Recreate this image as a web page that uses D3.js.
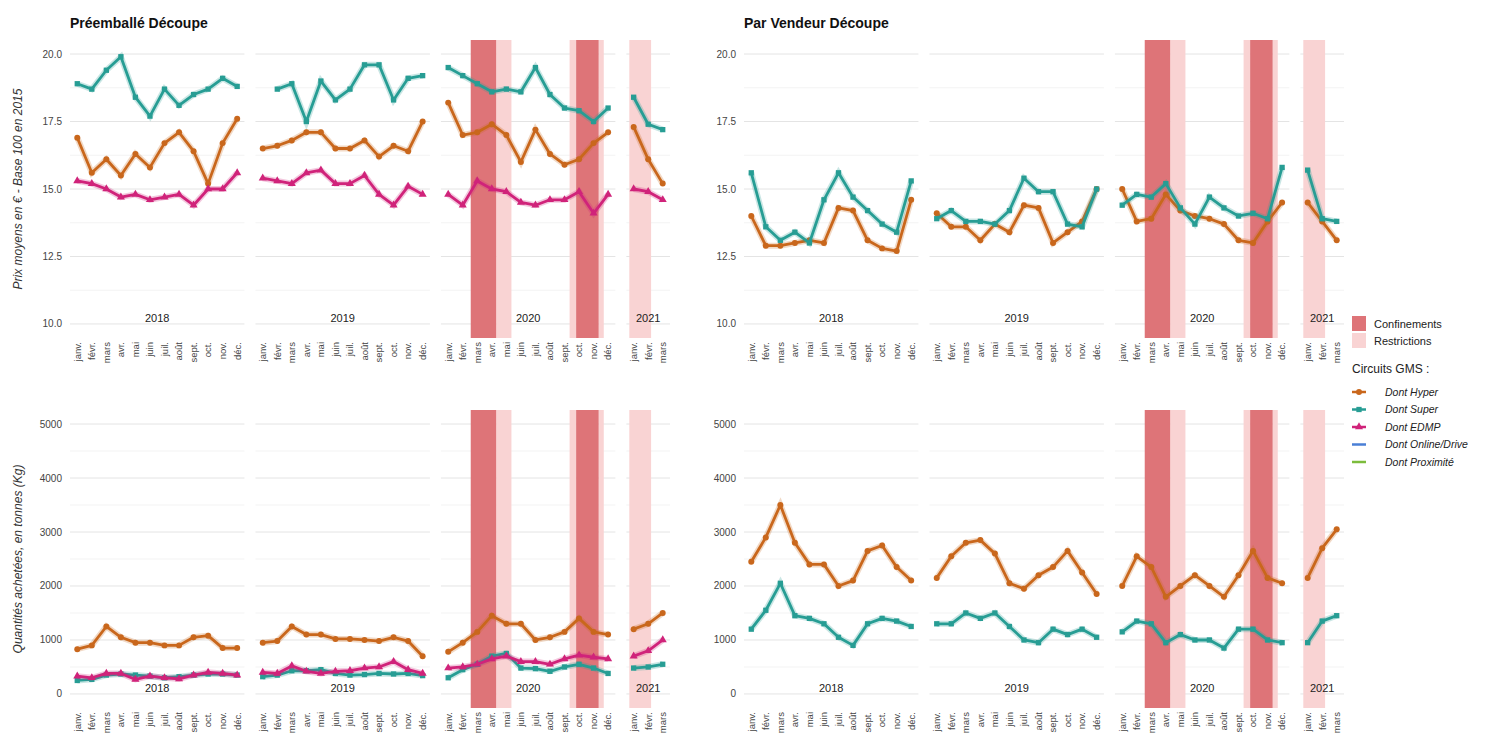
<!DOCTYPE html>
<html><head><meta charset="utf-8">
<script src="https://cdn.jsdelivr.net/npm/d3@7"></script>
<style>body{margin:0;background:#fff}</style>
</head><body>
<script>
const months = ["janv.","févr.","mars","avr.","mai","juin","juil.","août","sept.","oct.","nov.","déc."];
const years = ["2018","2019","2020","2021"];
const seriesNames = ["Dont Hyper","Dont Super","Dont EDMP","Dont Online/Drive","Dont Proximité"];
const seriesColors = ["#c9671c","#279d94","#d0237a","#4a7fd6","#7cbc3c"];

// prix, Préemballé Découpe (2018..2021 concatenated, 39 months)
const prixPreHyper = [16.9,15.6,16.1,15.5,16.3,15.8,16.7,17.1,16.4,15.2,16.7,17.6, 16.5,16.6,16.8,17.1,17.1,16.5,16.5,16.8,16.2,16.6,16.4,17.5, 18.2,17.0,17.1,17.4,17.0,16.0,17.2,16.3,15.9,16.1,16.7,17.1, 17.3,16.1,15.2];
const prixPreSuper = [18.9,18.7,19.4,19.9,18.4,17.7,18.7,18.1,18.5,18.7,19.1,18.8, null,18.7,18.9,17.5,19.0,18.3,18.7,19.6,19.6,18.3,19.1,19.2, 19.5,19.2,18.9,18.6,18.7,18.6,19.5,18.5,18.0,17.9,17.5,18.0, 18.4,17.4,17.2];
const prixPreEdmp = [15.3,15.2,15.0,14.7,14.8,14.6,14.7,14.8,14.4,15.0,15.0,15.6, 15.4,15.3,15.2,15.6,15.7,15.2,15.2,15.5,14.8,14.4,15.1,14.8, 14.8,14.4,15.3,15.0,14.9,14.5,14.4,14.6,14.6,14.9,14.1,14.8, 15.0,14.9,14.6];
// prix, Par Vendeur Découpe
const prixVenHyper = [14.0,12.9,12.9,13.0,13.1,13.0,14.3,14.2,13.1,12.8,12.7,14.6, 14.1,13.6,13.6,13.1,13.7,13.4,14.4,14.3,13.0,13.4,13.8,15.0, 15.0,13.8,13.9,14.8,14.2,14.0,13.9,13.7,13.1,13.0,13.8,14.5, 14.5,13.8,13.1];
const prixVenSuper = [15.6,13.6,13.1,13.4,13.0,14.6,15.6,14.7,14.2,13.7,13.4,15.3, 13.9,14.2,13.8,13.8,13.7,14.2,15.4,14.9,14.9,13.7,13.6,15.0, 14.4,14.8,14.7,15.2,14.3,13.7,14.7,14.3,14.0,14.1,13.9,15.8, 15.7,13.9,13.8];
// quantités, Préemballé Découpe
const qtePreHyper = [830,900,1250,1050,950,950,900,900,1050,1080,850,850, 950,980,1250,1100,1100,1020,1020,1000,980,1050,980,700, 780,950,1150,1450,1300,1300,1000,1050,1150,1400,1150,1100, 1200,1300,1500];
const qtePreSuper = [250,270,350,370,350,330,300,320,350,370,370,350, 320,350,430,430,450,380,350,360,380,370,380,340, 300,450,550,700,750,480,470,420,500,550,480,380, 480,500,550];
const qtePreEdmp = [330,300,380,380,270,330,300,280,350,400,380,350, 400,380,520,420,380,420,430,480,500,600,450,380, 480,500,550,650,700,600,600,550,650,720,680,650, 700,800,1000];
// quantités, Par Vendeur Découpe
const qteVenHyper = [2450,2900,3500,2800,2400,2400,2000,2100,2650,2750,2350,2100, 2150,2550,2800,2850,2600,2050,1950,2200,2350,2650,2250,1850, 2000,2550,2350,1800,2000,2200,2000,1800,2200,2650,2150,2050, 2150,2700,3050];
const qteVenSuper = [1200,1550,2050,1450,1400,1300,1050,900,1300,1400,1350,1250, 1300,1300,1500,1400,1500,1250,1000,950,1200,1100,1200,1050, 1150,1350,1300,950,1100,1000,1000,850,1200,1200,1000,950, 950,1350,1450];

// périodes (année, début, fin en index de mois)
const confinements = [["2020",1.55,3.3],["2020",8.8,10.35]];
const restrictions = [["2020",3.3,4.35],["2020",8.35,8.8],["2020",10.35,10.7],["2021",-0.3,1.2]];

const W = 1488, H = 744;
const svg = d3.select("body").append("svg").attr("width", W).attr("height", H)
  .attr("font-family", "Liberation Sans, Arial, sans-serif");

const yearMonths = {"2018":12,"2019":12,"2020":12,"2021":3};
const gap = 11;

function panel({left, top, bottom, domain, ticks, fmt, series, title, ytitle}) {
  const width = 600;
  const step = (width - gap * 3) / 39;
  const y = d3.scaleLinear().domain(domain).range([bottom, top]);
  const g = svg.append("g");
  let x0 = left;
  const facets = years.map(yr => {
    const n = yearMonths[yr];
    const x = d3.scaleLinear().domain([-0.5, n - 0.5]).range([x0, x0 + n * step]);
    const f = {yr, n, x, x0, x1: x0 + n * step};
    x0 += n * step + gap;
    return f;
  });
  if (title) svg.append("text").attr("x", left).attr("y", 28).attr("font-size", 14)
    .attr("font-weight", "bold").attr("fill", "#111").text(title);
  if (ytitle) svg.append("text").attr("transform", `translate(${left - 48},${(top + bottom) / 2}) rotate(-90)`)
    .attr("text-anchor", "middle").attr("font-size", 12).attr("font-style", "italic").attr("fill", "#333").text(ytitle);
  g.selectAll(".yt").data(ticks).join("text").attr("x", left - 8).attr("y", d => y(d)).attr("dy", "0.35em")
    .attr("text-anchor", "end").attr("font-size", 10).attr("fill", "#444").text(fmt);
  const minor = d3.pairs(ticks).map(([a, b]) => (a + b) / 2);
  let offset = 0;
  facets.forEach(f => {
    const fg = g.append("g");
    fg.selectAll(".mi").data(minor).join("line").attr("x1", f.x0).attr("x2", f.x1)
      .attr("y1", d => y(d)).attr("y2", d => y(d)).attr("stroke", "#f3f3f3");
    fg.selectAll(".ma").data(ticks).join("line").attr("x1", f.x0).attr("x2", f.x1)
      .attr("y1", d => y(d)).attr("y2", d => y(d)).attr("stroke", "#e4e4e4");
    restrictions.filter(r => r[0] === f.yr).forEach(r => fg.append("rect")
      .attr("x", f.x(r[1])).attr("width", f.x(r[2]) - f.x(r[1])).attr("y", top).attr("height", bottom - top)
      .attr("fill", "#f9d3d3"));
    confinements.filter(r => r[0] === f.yr).forEach(r => fg.append("rect")
      .attr("x", f.x(r[1])).attr("width", f.x(r[2]) - f.x(r[1])).attr("y", top).attr("height", bottom - top)
      .attr("fill", "#de7478"));
    fg.append("text").attr("x", (f.x0 + f.x1) / 2).attr("y", y(ticks[0]) - 2).attr("text-anchor", "middle")
      .attr("font-size", 11).attr("fill", "#222").text(f.yr);
    fg.selectAll(".mo").data(months.slice(0, f.n)).join("text")
      .attr("transform", (d, i) => `translate(${f.x(i)},${bottom + 4}) rotate(-90)`)
      .attr("dy", "0.35em").attr("text-anchor", "end").attr("font-size", 9.5).attr("fill", "#444").text(d => d);
    series.forEach(s => {
      const vals = s.values.slice(offset, offset + f.n).map((v, i) => ({i, v})).filter(d => d.v != null);
      const line = d3.line().x(d => f.x(d.i)).y(d => y(d.v));
      fg.append("path").datum(vals).attr("d", line).attr("fill", "none")
        .attr("stroke", s.color).attr("stroke-opacity", 0.25).attr("stroke-width", 6);
      fg.append("path").datum(vals).attr("d", line).attr("fill", "none")
        .attr("stroke", s.color).attr("stroke-width", 2.8).attr("stroke-linejoin", "round");
      fg.selectAll(null).data(vals).join("path")
        .attr("transform", d => `translate(${f.x(d.i)},${y(d.v)})`)
        .attr("d", d3.symbol().type(s.symbol).size(28)).attr("fill", s.color);
    });
    offset += f.n;
  });
}

const S = (values, k) => ({values, color: seriesColors[k], symbol: [d3.symbolCircle, d3.symbolSquare, d3.symbolTriangle][k]});
const prixDom = [9.48, 20.52], qteDom = [-260, 5260];
panel({left: 70, top: 40, bottom: 338, domain: prixDom, ticks: [10, 12.5, 15, 17.5, 20], fmt: d3.format(".1f"),
  series: [S(prixPreSuper, 1), S(prixPreHyper, 0), S(prixPreEdmp, 2)], title: "Préemballé Découpe",
  ytitle: "Prix moyens en € - Base 100 en 2015"});
panel({left: 744, top: 40, bottom: 338, domain: prixDom, ticks: [10, 12.5, 15, 17.5, 20], fmt: d3.format(".1f"),
  series: [S(prixVenHyper, 0), S(prixVenSuper, 1)], title: "Par Vendeur Découpe"});
panel({left: 70, top: 410, bottom: 708, domain: qteDom, ticks: [0, 1000, 2000, 3000, 4000, 5000], fmt: d => d,
  series: [S(qtePreHyper, 0), S(qtePreSuper, 1), S(qtePreEdmp, 2)],
  ytitle: "Quantités achetées, en tonnes (Kg)"});
panel({left: 744, top: 410, bottom: 708, domain: qteDom, ticks: [0, 1000, 2000, 3000, 4000, 5000], fmt: d => d,
  series: [S(qteVenHyper, 0), S(qteVenSuper, 1)]});

// legend
const lg = svg.append("g").attr("transform", "translate(1352,316)").attr("font-size", 11).attr("fill", "#222");
[["Confinements", "#de7478"], ["Restrictions", "#f9d3d3"]].forEach(([t, c], i) => {
  lg.append("rect").attr("x", 0).attr("y", i * 17).attr("width", 14).attr("height", 15).attr("fill", c);
  lg.append("text").attr("x", 22).attr("y", i * 17 + 8).attr("dy", "0.35em").text(t);
});
lg.append("text").attr("x", 0).attr("y", 57).attr("font-size", 12).text("Circuits GMS :");
const syms = [d3.symbolCircle, d3.symbolSquare, d3.symbolTriangle, null, null];
seriesNames.forEach((n, i) => {
  const yy = 76 + i * 17.5;
  lg.append("line").attr("x1", 0).attr("x2", 14).attr("y1", yy).attr("y2", yy)
    .attr("stroke", seriesColors[i]).attr("stroke-width", 2.5);
  if (syms[i]) lg.append("path").attr("transform", `translate(7,${yy})`)
    .attr("d", d3.symbol().type(syms[i]).size(28)).attr("fill", seriesColors[i]);
  lg.append("text").attr("x", 33).attr("y", yy).attr("dy", "0.35em").attr("font-style", "italic")
    .attr("font-size", 10.5).text(n);
});
</script>
</body></html>
